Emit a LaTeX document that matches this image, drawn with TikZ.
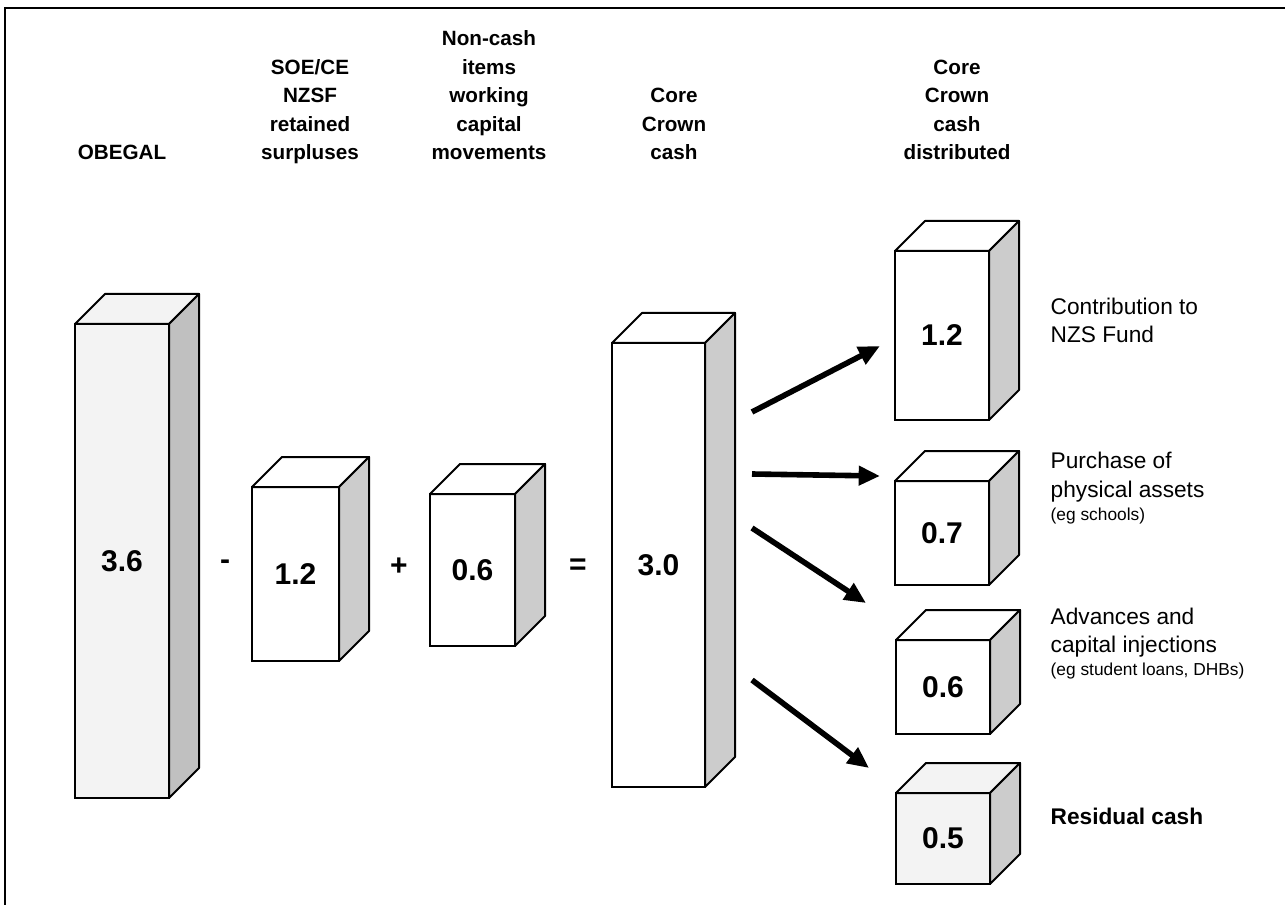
\documentclass[tikz,border=0pt]{standalone}
\usepackage{fontspec}
\setmainfont{Liberation Sans}
\usetikzlibrary{arrows.meta}

\definecolor{paleface}{RGB}{243,243,243}
\definecolor{darkside}{RGB}{192,192,192}
\definecolor{lightside}{RGB}{204,204,204}

% top and side faces of a box whose front is the node #1
\newcommand{\boxfaces}[3]{%
\draw [line width=1.5pt, line join=round, fill=#2] (#1.north west) -- ++(30,-30) -- ([shift={(30,-30)}]#1.north east) -- (#1.north east) -- cycle;
\draw [line width=1.5pt, line join=round, fill=#3] (#1.north east) -- ++(30,-30) -- ([shift={(30,-30)}]#1.south east) -- (#1.south east) -- cycle;
}

\tikzset{
  front/.style={draw, line width=1.5pt, inner sep=0pt, outer sep=0pt, anchor=north west, font=\bfseries\fontsize{22.5}{27}\selectfont},
  heading/.style={align=center, anchor=base, font=\bfseries\fontsize{15.5}{21.4}\selectfont},
  caption/.style={align=left, anchor=base west, font=\fontsize{17}{21}\selectfont},
  note/.style={anchor=base west, font=\fontsize{13}{15}\selectfont},
  sign/.style={font=\bfseries\fontsize{22.5}{27}\selectfont},
  flow/.style={line width=4.2pt, -{Triangle[length=16pt,width=14pt]}},
}

\begin{document}
\begin{tikzpicture}[x=0.75pt,y=-0.75pt]
\useasboundingbox (0,0) rectangle (1285,905);

%Frame
\draw [line width=2pt] (5,905) -- (5,8) -- (1285,8);

%Shape: boxes, front faces
\node [front, fill=paleface, minimum width=94*0.75pt, minimum height=474*0.75pt] (obegal) at (75,324) {3.6};
\boxfaces{obegal}{paleface}{darkside}
\node [front, fill=white, minimum width=87*0.75pt, minimum height=174*0.75pt] (retained) at (252,487) {1.2};
\boxfaces{retained}{white}{lightside}
\node [front, fill=white, minimum width=85*0.75pt, minimum height=152*0.75pt] (noncash) at (430,494) {0.6};
\boxfaces{noncash}{white}{lightside}
\node [front, fill=white, minimum width=93*0.75pt, minimum height=444*0.75pt] (core) at (612,343) {3.0};
\boxfaces{core}{white}{lightside}

\node [front, fill=white, minimum width=94*0.75pt, minimum height=169*0.75pt] (fund) at (895,251) {1.2};
\boxfaces{fund}{white}{lightside}
\node [front, fill=white, minimum width=94*0.75pt, minimum height=104*0.75pt] (assets) at (895,481) {0.7};
\boxfaces{assets}{white}{lightside}
\node [front, fill=white, minimum width=94*0.75pt, minimum height=94*0.75pt] (advances) at (896,640) {0.6};
\boxfaces{advances}{white}{lightside}
\node [front, fill=paleface, minimum width=94*0.75pt, minimum height=91*0.75pt] (residual) at (896,793) {0.5};
\boxfaces{residual}{paleface}{lightside}

% Text Node: signs
\node [sign] (minus) at (225,565) {-};
\node [sign] (plus) at (399,567) {+};
\node [sign] (equals) at (578,567) {=};

% Text Node: headings
\node [heading] (hobegal) at (122,160) {OBEGAL};
\node [heading] (hretained) at (310,160) {SOE/CE\\NZSF\\retained\\surpluses};
\node [heading] (hnoncash) at (489,160) {Non-cash\\items\\working\\capital\\movements};
\node [heading] (hcore) at (674,160) {Core\\Crown\\cash};
\node [heading] (hdistributed) at (957,160) {Core\\Crown\\cash\\distributed};

% Text Node: captions
\node [caption] (cfund) at (1046,343) {Contribution to\\NZS Fund};
\node [caption] (cassets) at (1046,497) {Purchase of\\physical assets};
\node [note] (nassets) at (1046,520) {(eg schools)};
\node [caption] (cadvances) at (1046,652) {Advances and\\capital injections};
\node [note] (nadvances) at (1046,675) {(eg student loans, DHBs)};
\node [caption, font=\bfseries\fontsize{17}{21}\selectfont] (cresidual) at (1046,824) {Residual cash};

%Straight Lines: arrows
\coordinate (s1) at (752,412); \coordinate (e1) at (880,346);
\coordinate (s2) at (752,474); \coordinate (e2) at (880,476);
\coordinate (s3) at (752,528); \coordinate (e3) at (866,603);
\coordinate (s4) at (752,680); \coordinate (e4) at (869,768);
\draw [flow] (s1) -- (e1);
\draw [flow] (s2) -- (e2);
\draw [flow] (s3) -- (e3);
\draw [flow] (s4) -- (e4);

\end{tikzpicture}
\end{document}
